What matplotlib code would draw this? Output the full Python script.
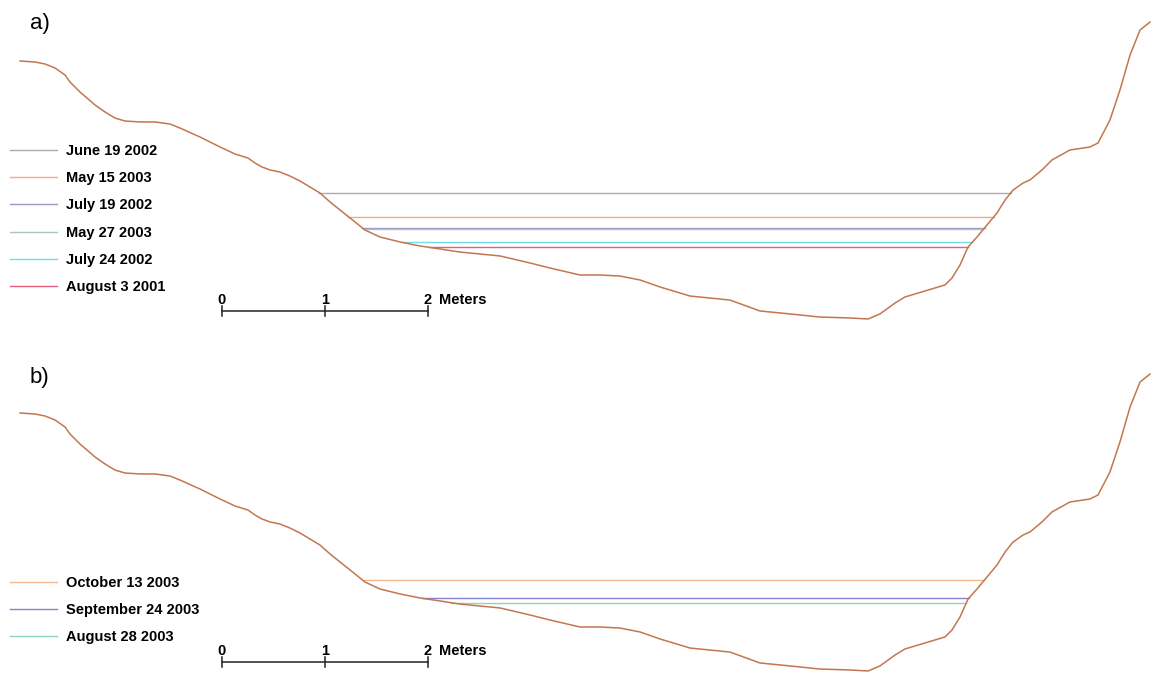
import matplotlib.pyplot as plt
import numpy as np

plt.rcParams['font.family'] = ['Liberation Sans', 'DejaVu Sans']

# cross-section profile (metres across / metres above thalweg)
station = [-1.961, -1.816, -1.718, -1.621, -1.524, -1.476, -1.379, -1.233, -1.136, -1.039,
           -0.942, -0.796, -0.650, -0.505, -0.408, -0.214, -0.019, 0.126, 0.252, 0.320,
           0.388, 0.466, 0.563, 0.660, 0.757, 0.854, 0.951, 1.049, 1.146, 1.243,
           1.388, 1.534, 1.728, 1.922, 2.117, 2.311, 2.505, 2.699, 2.990, 3.184,
           3.476, 3.670, 3.864, 4.058, 4.252, 4.544, 4.932, 5.223, 5.515, 5.806,
           6.097, 6.272, 6.388, 6.534, 6.631, 6.825, 7.019, 7.087, 7.165, 7.243,
           7.330, 7.427, 7.524, 7.602, 7.680, 7.777, 7.845, 7.961, 8.058, 8.233,
           8.427, 8.505, 8.621, 8.718, 8.816, 8.913, 9.010]
elev = [2.505, 2.495, 2.476, 2.437, 2.369, 2.301, 2.204, 2.078, 2.010, 1.951,
        1.922, 1.913, 1.913, 1.893, 1.854, 1.767, 1.670, 1.602, 1.563, 1.515,
        1.476, 1.447, 1.427, 1.388, 1.340, 1.282, 1.223, 1.136, 1.058, 0.981,
        0.864, 0.796, 0.748, 0.709, 0.680, 0.650, 0.631, 0.612, 0.544, 0.495,
        0.427, 0.427, 0.417, 0.379, 0.311, 0.223, 0.184, 0.078, 0.049, 0.019,
        0.010, 0.000, 0.049, 0.155, 0.214, 0.272, 0.330, 0.398, 0.524, 0.699,
        0.796, 0.913, 1.029, 1.155, 1.252, 1.320, 1.350, 1.447, 1.544, 1.641,
        1.670, 1.709, 1.932, 2.223, 2.563, 2.806, 2.883]

# water surface stages, panel a
dates_a = ['June 19 2002', 'May 15 2003', 'July 19 2002', 'May 27 2003', 'July 24 2002', 'August 3 2001']
stage_a = [1.228, 0.993, 0.886, 0.869, 0.745, 0.696]
colors_a = ['#a9adad', '#f2ad7c', '#9c98c8', '#a9c6bd', '#72dde6', '#e2607e']

# panel b
dates_b = ['October 13 2003', 'September 24 2003', 'August 28 2003']
stage_b = [0.883, 0.706, 0.663]
colors_b = ['#f3b98e', '#8a84cf', '#8fd6b7']

scale_ticks = [0, 1, 2]

station = np.array(station)
elev = np.array(elev)
low = np.argmin(elev)


def banks(level):
    # where the stage meets the left and right bank
    left = np.interp(level, elev[:low + 1][::-1], station[:low + 1][::-1])
    right = np.interp(level, elev[low:], station[low:])
    return left, right


fig = plt.figure(figsize=(11.52, 6.73), dpi=100)
W, H = 1152, 673
FS = 10.5


def panel(top_px, bottom_px, base_px, dates, stages, colors, label, label_px, legend_top, bar_px):
    ax = fig.add_axes([0, 1 - bottom_px / H, 1, (bottom_px - top_px) / H])
    ax.set_xlim(-222 / 103, (W - 222) / 103)
    ax.set_ylim((base_px - bottom_px) / 103, (base_px - top_px) / 103)
    ax.axis('off')
    handles = []
    for d, s, c in zip(dates, stages, colors):
        l, r = banks(s)
        h, = ax.plot([l, r], [s, s], color=c, lw=1.0)
        handles.append(h)
    ax.plot(station, elev, color='#c47650', lw=1.1, zorder=5)
    ax.text(30 / W, 1 - (label_px - top_px) / (bottom_px - top_px), label,
            transform=ax.transAxes, fontsize=16, va='center', ha='left')
    leg = ax.legend(handles, dates, loc='upper left', frameon=False,
                    bbox_to_anchor=(4 / W, 1 - (legend_top - top_px) / (bottom_px - top_px)),
                    fontsize=FS, handlelength=3.2, handletextpad=0.68,
                    labelspacing=0.91, borderaxespad=0)
    for t in leg.get_texts():
        t.set_fontweight('bold')
    # scale bar
    yb = (base_px - bar_px) / 103
    ax.plot([scale_ticks[0], scale_ticks[-1]], [yb, yb], color='#222222', lw=1.1)
    for t in scale_ticks:
        ax.plot([t, t], [yb - 0.05, yb + 0.05], color='#222222', lw=1.1)
        ax.text(t, yb + 0.04, str(t), ha='center', va='bottom', fontsize=FS, fontweight='bold')
    ax.text(scale_ticks[-1] + 0.11, yb + 0.04, 'Meters', ha='left', va='bottom',
            fontsize=FS, fontweight='bold')
    return ax


panel(0, 336, 319, dates_a, stage_a, colors_a, 'a)', 23, 138, 311)
panel(336, 673, 671, dates_b, stage_b, colors_b, 'b)', 377, 570, 662)

fig.savefig('out.png', dpi=100)
